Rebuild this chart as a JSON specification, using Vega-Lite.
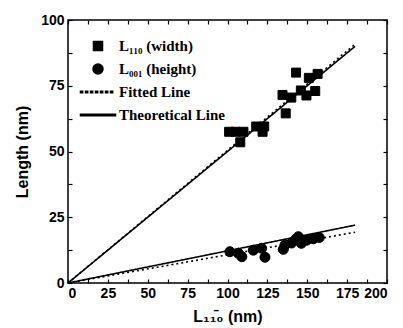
{
  "$schema": "https://vega.github.io/schema/vega-lite/v6.json",
  "width": 319,
  "height": 263,
  "autosize": "none",
  "padding": {"left": 68, "top": 20, "right": 16, "bottom": 45},
  "background": "white",
  "config": {
    "view": {"stroke": "black", "strokeWidth": 1.5},
    "axis": {
      "domain": false,
      "grid": false,
      "labelFont": "Liberation Sans",
      "labelFontWeight": "bold",
      "labelFontSize": 14,
      "labelColor": "black",
      "titleFont": "Liberation Sans",
      "titleFontWeight": "bold",
      "titleFontSize": 16,
      "titleColor": "black",
      "tickColor": "black",
      "tickWidth": 1.2
    }
  },
  "datasets": {
    "pts": [
      {"x": 101, "y": 57.5, "series": "L₁₁₀ (width)"},
      {"x": 105, "y": 57.5, "series": "L₁₁₀ (width)"},
      {"x": 110, "y": 57.5, "series": "L₁₁₀ (width)"},
      {"x": 108, "y": 53.5, "series": "L₁₁₀ (width)"},
      {"x": 118, "y": 59.5, "series": "L₁₁₀ (width)"},
      {"x": 123, "y": 59.5, "series": "L₁₁₀ (width)"},
      {"x": 122, "y": 57.5, "series": "L₁₁₀ (width)"},
      {"x": 134.5, "y": 71.5, "series": "L₁₁₀ (width)"},
      {"x": 136.5, "y": 64.5, "series": "L₁₁₀ (width)"},
      {"x": 140, "y": 70.5, "series": "L₁₁₀ (width)"},
      {"x": 143, "y": 80, "series": "L₁₁₀ (width)"},
      {"x": 146, "y": 73.2, "series": "L₁₁₀ (width)"},
      {"x": 149.5, "y": 71.3, "series": "L₁₁₀ (width)"},
      {"x": 151, "y": 78, "series": "L₁₁₀ (width)"},
      {"x": 155, "y": 73, "series": "L₁₁₀ (width)"},
      {"x": 156.5, "y": 79.5, "series": "L₁₁₀ (width)"},
      {"x": 101.5, "y": 11.9, "series": "L₀₀₁ (height)"},
      {"x": 106.8, "y": 11.3, "series": "L₀₀₁ (height)"},
      {"x": 109, "y": 10, "series": "L₀₀₁ (height)"},
      {"x": 116.2, "y": 12.5, "series": "L₀₀₁ (height)"},
      {"x": 121.4, "y": 13.2, "series": "L₀₀₁ (height)"},
      {"x": 123.5, "y": 9.8, "series": "L₀₀₁ (height)"},
      {"x": 135, "y": 12.8, "series": "L₀₀₁ (height)"},
      {"x": 136, "y": 14.4, "series": "L₀₀₁ (height)"},
      {"x": 140.2, "y": 15.2, "series": "L₀₀₁ (height)"},
      {"x": 143, "y": 16.8, "series": "L₀₀₁ (height)"},
      {"x": 144.4, "y": 17.6, "series": "L₀₀₁ (height)"},
      {"x": 146.3, "y": 15.1, "series": "L₀₀₁ (height)"},
      {"x": 149.6, "y": 16.3, "series": "L₀₀₁ (height)"},
      {"x": 153.8, "y": 16.8, "series": "L₀₀₁ (height)"},
      {"x": 157.5, "y": 17.3, "series": "L₀₀₁ (height)"}
    ],
    "lines": [
      {"x": 0, "y": 0, "line": "wfit", "kind": "fit"},
      {"x": 180, "y": 90.8, "line": "wfit", "kind": "fit"},
      {"x": 0, "y": 0, "line": "wtheo", "kind": "theo"},
      {"x": 180, "y": 90, "line": "wtheo", "kind": "theo"},
      {"x": 0, "y": 0, "line": "hfit", "kind": "fit"},
      {"x": 180, "y": 19.3, "line": "hfit", "kind": "fit"},
      {"x": 0, "y": 0, "line": "htheo", "kind": "theo"},
      {"x": 180, "y": 22, "line": "htheo", "kind": "theo"}
    ]
  },
  "resolve": {"scale": {"x": "independent", "y": "independent"}},
  "layer": [
    {
      "data": {"name": "lines"},
      "mark": {"type": "line", "color": "black", "strokeWidth": 1.6},
      "encoding": {
        "x": {"field": "x", "type": "quantitative", "scale": {"domain": [0, 200], "nice": false},
          "axis": {"orient": "bottom", "values": [0,12.5,25,37.5,50,62.5,75,87.5,100,112.5,125,137.5,150,162.5,175,187.5,200],
            "labelExpr": "datum.value % 25 === 0 ? datum.label : ''", "tickSize": -4, "labelPadding": 7, "title": "L₁₁̄₀ (nm)", "titlePadding": 8}},
        "y": {"field": "y", "type": "quantitative", "scale": {"domain": [0, 100], "nice": false},
          "axis": {"orient": "left", "values": [0,12.5,25,37.5,50,62.5,75,87.5,100],
            "labelExpr": "datum.value % 25 === 0 ? datum.label : ''", "tickSize": -4, "labelPadding": 8, "title": "Length (nm)", "titlePadding": 10}},
        "detail": {"field": "line"},
        "strokeDash": {"field": "kind", "type": "nominal", "scale": {"domain": ["fit", "theo"], "range": [[2, 3], [1, 0]]}, "legend": null}
      }
    },
    {
      "data": {"name": "pts"},
      "mark": {"type": "point", "filled": false, "fill": "black", "stroke": "black", "strokeWidth": 1, "opacity": 1, "fillOpacity": 1, "size": 400},
      "encoding": {
        "x": {"field": "x", "type": "quantitative", "scale": {"domain": [0, 200], "nice": false},
          "axis": {"orient": "top", "values": [0,12.5,25,37.5,50,62.5,75,87.5,100,112.5,125,137.5,150,162.5,175,187.5,200], "labels": false, "tickSize": -4, "title": null}},
        "y": {"field": "y", "type": "quantitative", "scale": {"domain": [0, 100], "nice": false},
          "axis": {"orient": "right", "values": [0,12.5,25,37.5,50,62.5,75,87.5,100], "labels": false, "tickSize": -4, "title": null}},
        "shape": {"field": "series", "type": "nominal",
          "scale": {"domain": ["L₁₁₀ (width)", "L₀₀₁ (height)", "Fitted Line", "Theoretical Line"],
            "range": [
              "M-0.45,-0.45H0.45V0.45H-0.45Z",
              "M-0.5,0A0.5,0.5 0 1,0 0.5,0A0.5,0.5 0 1,0 -0.5,0Z",
              "M-1.75,-0.08H-1.53V0.08H-1.75ZM-1.25,-0.08H-1.03V0.08H-1.25ZM-0.75,-0.08H-0.53V0.08H-0.75ZM-0.25,-0.08H-0.03V0.08H-0.25ZM0.25,-0.08H0.47V0.08H0.25ZM0.75,-0.08H0.97V0.08H0.75ZM1.25,-0.08H1.47V0.08H1.25Z",
              "M-1.75,-0.08H1.75V0.08H-1.75Z"
            ]},
          "legend": {"title": null, "orient": "none", "legendX": 19, "legendY": 15, "padding": 0,
            "labelFont": "Liberation Serif", "labelFontWeight": "bold", "labelFontSize": 15, "labelColor": "black",
            "labelOffset": 10, "rowPadding": 4, "symbolSize": 400, "symbolFillColor": "black",
            "encode": {"symbols": {"update": {"fill": {"value": "black"}, "opacity": {"value": 1}, "fillOpacity": {"value": 1}}}}}}
      }
    }
  ]
}
